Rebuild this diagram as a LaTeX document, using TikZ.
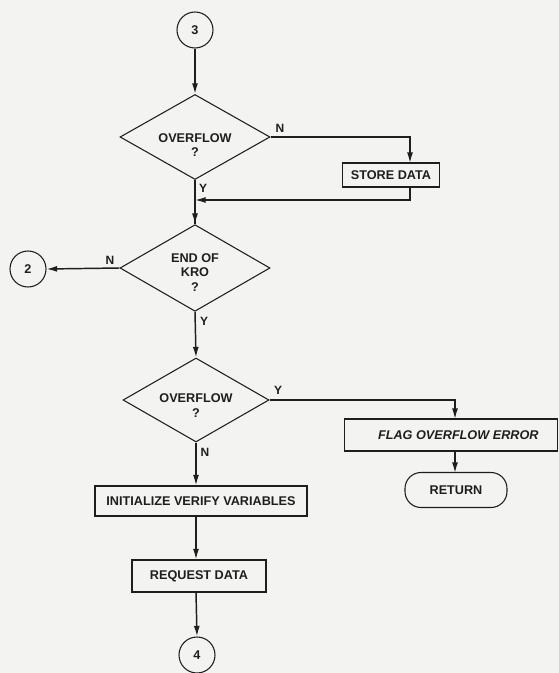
\documentclass[tikz,border=0pt]{standalone}
\usepackage{fontspec}
\setmainfont{Liberation Sans}
\usetikzlibrary{shapes.geometric,arrows.meta}
\definecolor{paper}{RGB}{243,243,241}
\definecolor{ink}{RGB}{30,30,30}
\tikzset{
  base/.style={draw=ink,line width=0.8pt,text=ink,font=\fontsize{9.5}{11}\selectfont\bfseries,align=center,inner sep=0pt},
  conn/.style={circle,base,minimum size=27pt},
  decision/.style={diamond,base,aspect=1.75},
  dtext/.style={text=ink,font=\fontsize{9.5}{11}\selectfont\bfseries,align=center,inner sep=0pt},
  procbox/.style={rectangle,base},
  termbox/.style={rectangle,base,rounded corners=12pt},
  flow/.style={draw=ink,line width=1.1pt,-{Latex[length=8pt,width=4.5pt]}},
  line/.style={draw=ink,line width=1.1pt},
  lbl/.style={text=ink,font=\fontsize{9}{11}\selectfont\bfseries,inner sep=0pt}
}
\begin{document}
\begin{tikzpicture}[x=0.75pt,y=-0.75pt]
\fill[paper] (0,0) rectangle (559,673);
\useasboundingbox (0,0) rectangle (559,673);
% nodes
\node[conn] (c3) at (195,30) {3};
\node[decision,minimum width=112.5pt,minimum height=63.75pt] (d1) at (195,137) {};
\node[dtext] (t1) at (195,145) {OVERFLOW\\?};
\node[procbox,minimum width=72.75pt,minimum height=18pt] (store) at (391,175) {STORE DATA};
\node[decision,minimum width=112.5pt,minimum height=65pt] (d2) at (195,268) {};
\node[dtext] (t2) at (195,272.5) {END OF\\KRO\\?};
\node[conn] (c2) at (28,269) {2};
\node[decision,minimum width=109.5pt,minimum height=63pt] (d3) at (196,400) {};
\node[dtext] (t3) at (196,405.5) {OVERFLOW\\?};
\node[procbox,minimum width=159.75pt,minimum height=24pt] (flag) at (451,435) {\hspace*{11pt}\itshape FLAG OVERFLOW ERROR};
\node[termbox,minimum width=76.5pt,minimum height=26.25pt] (ret) at (456,490) {RETURN};
\node[procbox,minimum width=159pt,minimum height=22.5pt] (init) at (201,501) {INITIALIZE VERIFY VARIABLES};
\node[procbox,minimum width=100.5pt,minimum height=24pt] (req) at (199,576) {REQUEST DATA};
\node[conn] (c4) at (197,655) {4};
% coordinates
\coordinate (sN) at (410,163);
\coordinate (sB) at (410,187);
\coordinate (j1) at (195,200);
\coordinate (fN) at (455,419);
\coordinate (fS) at (455,451);
\coordinate (rN) at (455,473);
% connectors
\draw[flow] (c3) -- (d1.north);
\draw[flow] (d1.east) -| (sN);
\draw[line] (d1.south) -- (d2.north);
\draw[flow] (d1.south |- d2.north) ++(0,-14) -- (d2.north);
\draw[flow] (sB) |- (j1);
\draw[flow] (d2.west) -- (c2.east);
\draw[flow] (d2.south) -- (d3.north);
\draw[flow] (d3.east) -| (fN);
\draw[flow] (fS) -- (rN);
\draw[flow] (d3.south) -- (d3.south |- init.north);
\draw[flow] (d3.south |- init.south) -- (d3.south |- req.north);
\draw[flow] (d3.south |- req.south) -- (c4.north);
% labels
\node[lbl] (lN1) at (280,128) {N};
\node[lbl] (lY1) at (203,188) {Y};
\node[lbl] (lN2) at (110,260) {N};
\node[lbl] (lY2) at (204,321) {Y};
\node[lbl] (lY3) at (278,390) {Y};
\node[lbl] (lN3) at (205,452) {N};
\end{tikzpicture}
\end{document}
